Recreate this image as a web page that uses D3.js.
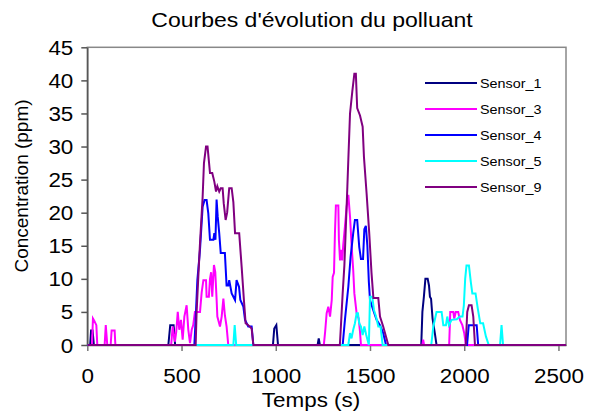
<!DOCTYPE html>
<html>
<head>
<meta charset="utf-8">
<script src="https://cdn.jsdelivr.net/npm/d3@7"></script>
<style>
  body { margin: 0; background: #fff; }
  svg { display: block; font-family: Arial, 'Liberation Sans', sans-serif; }
</style>
</head>
<body>
<svg id="chart" width="590" height="414"></svg>
<script>
// valeurs : [temps (s), concentration (ppm)]
const sensorNames = ['Sensor_1', 'Sensor_3', 'Sensor_4', 'Sensor_5', 'Sensor_9']

const sensor1 = [[0, 0], [15, 0], [20, 2.2], [28, 2.2], [35, 0], [430, 0], [440, 3], [458, 3], [466, 0],
  [985, 0], [992, 2.5], [1003, 3], [1012, 0], [1222, 0], [1228, 1], [1234, 0],
  [1772, 0], [1778, 5], [1786, 7.3], [1794, 10], [1806, 10], [1813, 9], [1818, 7.3], [1824, 7],
  [1832, 4], [1844, 1.8], [1853, 0], [2540, 0]]

const sensor3 = [[0, 0], [25, 0], [30, 4], [38, 3.6], [48, 3], [53, 0], [92, 0], [98, 3], [106, 0],
  [124, 0], [129, 2.2], [145, 2.2], [149, 0], [445, 0], [453, 2.8], [465, 0.5], [472, 2], [480, 5],
  [488, 2.3], [497, 3.8], [506, 0.8], [515, 4.3], [527, 6], [536, 2.3], [545, 0.3], [554, 2.3],
  [562, 3], [571, 5], [598, 5], [607, 8], [616, 9.8], [630, 9.8], [633, 7.3], [645, 7.3], [651, 10],
  [657, 11], [663, 7.3], [672, 12.1], [679, 11], [686, 7], [690, 4.3], [704, 2.8], [713, 4.3],
  [722, 7], [730, 4.5], [739, 2.8], [748, 0], [1255, 0], [1262, 2], [1270, 4.8], [1279, 5.8],
  [1288, 4.3], [1297, 6.8], [1302, 10.3], [1309, 10.9], [1314, 16.9], [1319, 21.1], [1332, 21.1],
  [1335, 15.9], [1341, 12.8], [1346, 14.4], [1353, 12.8], [1358, 15.1], [1367, 17.9], [1376, 20.9],
  [1385, 22.7], [1394, 19.4], [1403, 14.8], [1411, 11.3], [1417, 7.8], [1429, 4.8], [1440, 4],
  [1447, 2], [1452, 0], [1778, 0], [1782, 0.8], [1787, 0], [1920, 0], [1926, 5], [1942, 5],
  [1947, 4], [1955, 5], [1968, 5], [1977, 3.8], [1990, 3], [2000, 1.8], [2009, 0], [2540, 0]]

const sensor4 = [[0, 0], [568, 0], [575, 4], [584, 9.8], [598, 14.4], [612, 20.9], [622, 21.9],
  [633, 21.9], [642, 19.9], [651, 15.9], [669, 15.9], [674, 16.9], [680, 15.9], [686, 22],
  [692, 19.4], [700, 16.9], [708, 13.9], [730, 13.9], [739, 9], [748, 9], [753, 9.8], [766, 7.8],
  [784, 6.8], [792, 9.8], [805, 8.8], [812, 6.8], [828, 5.8], [837, 3.8], [854, 2.8], [872, 2.8],
  [881, 0], [1355, 0], [1367, 3.8], [1385, 8.8], [1397, 13.3], [1411, 16.9], [1420, 18.9],
  [1432, 18.9], [1443, 14.8], [1452, 13], [1463, 13], [1470, 17.5], [1478, 18], [1486, 15],
  [1494, 9.5], [1500, 6.8], [1517, 5.3], [1535, 3.8], [1553, 3], [1570, 1.8], [1585, 0],
  [2015, 0], [2024, 3], [2066, 3], [2074, 0], [2540, 0]]

const sensor5 = [[0, 0], [775, 0], [782, 3], [790, 0], [1385, 0], [1394, 1.8], [1402, 1], [1411, 2.3],
  [1420, 3.3], [1429, 4.8], [1436, 4.8], [1443, 3.3], [1452, 2.8], [1461, 1.5], [1470, 2.8],
  [1480, 1.5], [1494, 0], [1500, 7.3], [1512, 7.3], [1521, 5.3], [1532, 4.3], [1544, 2.8],
  [1556, 2.8], [1567, 0], [1825, 0], [1836, 2.8], [1853, 5], [1880, 5], [1889, 3], [1903, 3],
  [1910, 4.3], [1919, 3], [1933, 3.8], [1960, 3.9], [1977, 4.3], [1991, 4.3], [1998, 6], [2005, 10],
  [2012, 12], [2025, 12], [2035, 9.5], [2043, 7.8], [2060, 7.8], [2072, 5.5], [2085, 3.3],
  [2100, 3.3], [2115, 1.3], [2130, 0], [2190, 0], [2198, 3], [2206, 0], [2540, 0]]

const sensor9 = [[0, 0], [575, 0], [580, 5], [589, 10.3], [598, 15.4], [612, 22.4], [619, 27.5],
  [630, 30], [638, 30], [651, 26], [663, 26], [674, 24.7], [683, 23.2], [690, 24], [700, 23.2],
  [708, 23.7], [718, 23.7], [724, 21.4], [734, 18.9], [742, 20], [753, 23.7], [766, 23.7],
  [775, 21.6], [784, 16.9], [806, 16.9], [819, 11.8], [831, 6.8], [840, 3.3], [854, 3], [872, 2.5],
  [881, 0], [1340, 0], [1344, 2], [1355, 7.8], [1364, 12], [1372, 17.9], [1380, 24], [1385, 28],
  [1394, 35], [1406, 38.3], [1417, 41], [1425, 41], [1432, 35.8], [1447, 34.7], [1461, 33],
  [1468, 28.4], [1482, 22.9], [1496, 16.9], [1508, 10.9], [1518, 7.1], [1544, 7.1], [1553, 4.3],
  [1570, 2.8], [1585, 1.25], [1597, 0], [2008, 0], [2016, 5], [2025, 6], [2039, 6], [2048, 4.3],
  [2057, 0], [2540, 0]]

const xTicks = [0, 500, 1000, 1500, 2000, 2500]
const yTicks = [0, 5, 10, 15, 20, 25, 30, 35, 40, 45]

const series = [sensor1, sensor3, sensor4, sensor5, sensor9]
const colors = ['#000080', '#ff00ff', '#0000ff', '#00ffff', '#800080']

// le graphique d'origine est étiré horizontalement
const SX = 1.15

const svg = d3.select('#chart')
const plotLeft = 87.3
const plotRight = 566
const plotTop = 47.3
const plotBottom = 345

const x = d3.scaleLinear().domain([0, 2540]).range([plotLeft, plotRight])
const y = d3.scaleLinear().domain([0, 45]).range([plotBottom, plotTop])

// cadre de la zone de tracé
svg.append('rect')
  .attr('x', plotLeft)
  .attr('y', plotTop)
  .attr('width', plotRight - plotLeft)
  .attr('height', plotBottom - plotTop)
  .attr('fill', 'none')
  .attr('stroke', '#888')
  .attr('stroke-width', 1.5)

const yAxis = svg.append('g')
  .attr('transform', `translate(${plotLeft},0)`)
  .call(d3.axisLeft(y).tickValues(yTicks).tickSize(6).tickSizeOuter(0))
yAxis.select('.domain').attr('stroke', '#555').attr('stroke-width', 1.5)
yAxis.selectAll('.tick line').attr('stroke', '#555').attr('stroke-width', 1.5)
yAxis.selectAll('.tick text')
  .attr('x', -14 / SX)
  .attr('dy', '0.36em')
  .attr('transform', `scale(${SX},1)`)
  .style('font-size', '19.5px')
  .attr('fill', '#000')
  .style('font-family', 'Arial, Liberation Sans, sans-serif')

const xAxis = svg.append('g')
  .attr('transform', `translate(0,${plotBottom})`)
  .call(d3.axisBottom(x).tickValues(xTicks).tickFormat(d3.format('d')).tickSize(6).tickSizeOuter(0))
xAxis.select('.domain').attr('stroke', '#555').attr('stroke-width', 1.5)
xAxis.selectAll('.tick line').attr('stroke', '#777').attr('stroke-width', 1.5)
xAxis.selectAll('.tick text')
  .attr('y', 24)
  .attr('dy', '0.71em')
  .attr('transform', `scale(${SX},1)`)
  .attr('x', 0)
  .style('font-size', '19.5px')
  .attr('fill', '#000')
  .style('font-family', 'Arial, Liberation Sans, sans-serif')

// courbes
const line = d3.line()
  .x(d => x(d[0]))
  .y(d => y(d[1]))

svg.append('g')
  .selectAll('path')
  .data(series)
  .enter().append('path')
  .attr('d', line)
  .attr('fill', 'none')
  .attr('stroke', (d, i) => colors[i])
  .attr('stroke-width', 2)
  .attr('stroke-linejoin', 'miter')

// titres
svg.append('text')
  .attr('transform', `translate(312,27) scale(${SX},1)`)
  .attr('text-anchor', 'middle')
  .style('font-size', '20px')
  .text('Courbes d\'évolution du polluant')

svg.append('text')
  .attr('transform', `translate(311,407) scale(${SX},1)`)
  .attr('text-anchor', 'middle')
  .style('font-size', '19.5px')
  .text('Temps (s)')

svg.append('text')
  .attr('transform', `translate(28,186) rotate(-90)`)
  .attr('text-anchor', 'middle')
  .style('font-size', '19px')
  .text('Concentration (ppm)')

// légende
const legend = svg.append('g')
  .selectAll('.legend-item')
  .data(sensorNames)
  .enter().append('g')
  .attr('class', 'legend-item')
  .attr('transform', (d, i) => `translate(425,${83 + i * 26})`)

legend.append('line')
  .attr('x1', 0)
  .attr('x2', 52)
  .attr('stroke', (d, i) => colors[i])
  .attr('stroke-width', 2)

legend.append('text')
  .attr('transform', `translate(55,0) scale(${SX},1)`)
  .attr('dy', '0.36em')
  .style('font-size', '12.5px')
  .text(d => d)
</script>
</body>
</html>
